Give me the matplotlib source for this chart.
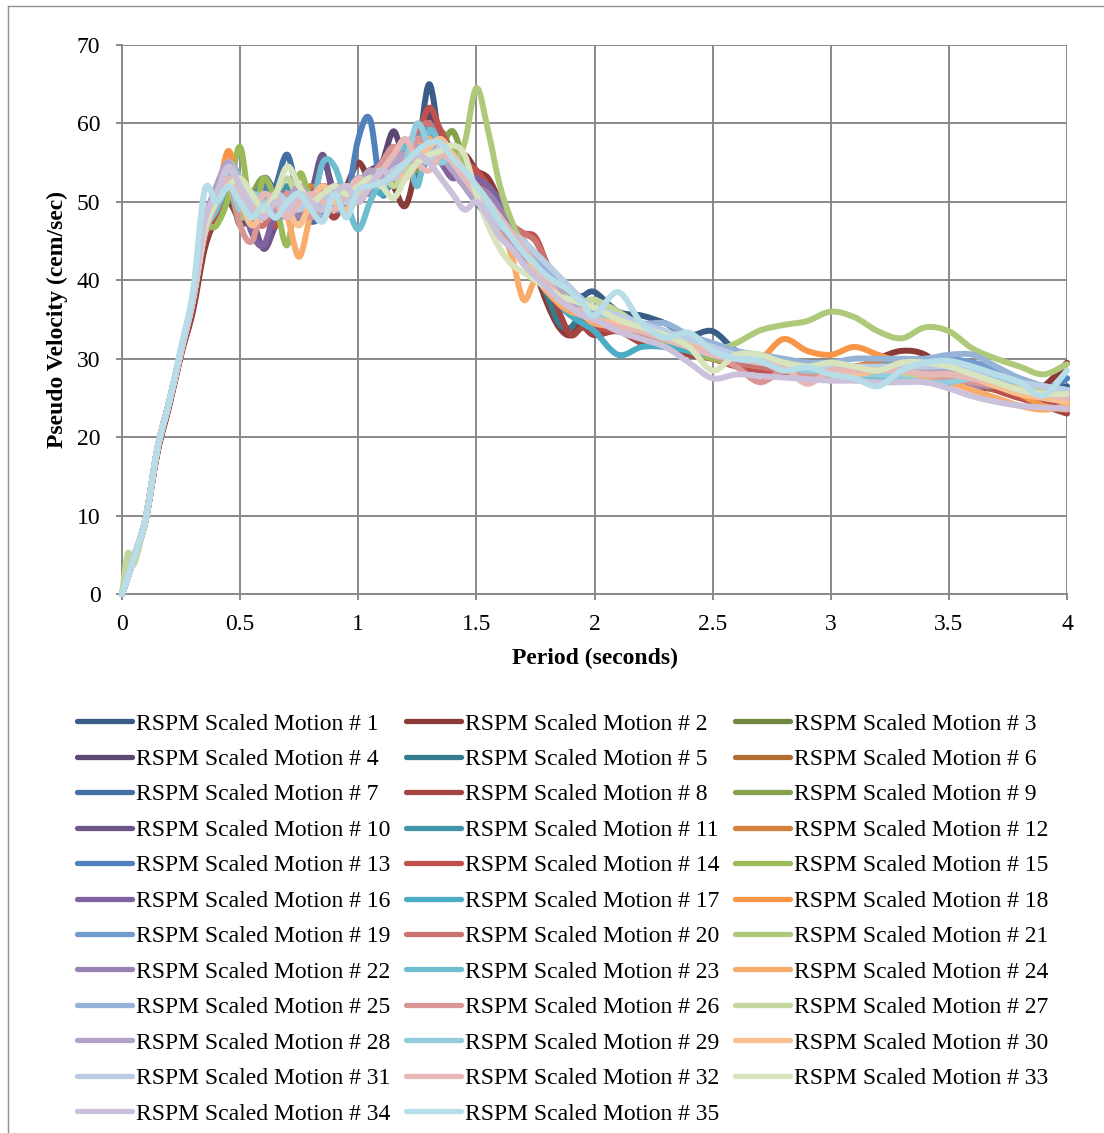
import matplotlib
matplotlib.use("Agg")
import matplotlib.pyplot as plt
from matplotlib.path import Path
from matplotlib.patches import PathPatch
from matplotlib.lines import Line2D
import numpy as np

plt.rcParams["font.family"] = ["Liberation Serif", "DejaVu Serif"]

# Periods (s) at which every spectrum is sampled
period = [0, 0.025, 0.05, 0.1, 0.15, 0.2, 0.25, 0.3, 0.35,
          0.4, 0.45, 0.5, 0.55, 0.6, 0.65, 0.7, 0.75, 0.8, 0.85, 0.9, 0.95, 1.0,
          1.05, 1.1, 1.15, 1.2, 1.25, 1.3, 1.35, 1.4, 1.45, 1.5,
          1.55, 1.6, 1.65, 1.7, 1.75, 1.8, 1.85, 1.9, 1.95, 2.0,
          2.1, 2.2, 2.3, 2.4, 2.5, 2.6, 2.7, 2.8, 2.9, 3.0,
          3.1, 3.2, 3.3, 3.4, 3.5, 3.6, 3.7, 3.8, 3.9, 4.0]

# Pseudo velocity (cem/sec) of each scaled motion
psv_01 = [0, 2.2, 4.6, 9.6, 18.5, 24.5, 31.0, 37.5, 46.5,
          49, 53, 50, 48, 53, 51, 49, 48, 51, 49, 50, 51, 53, 51, 53, 52, 54, 56, 65, 57, 55, 54, 51,
          49, 47, 45, 43, 42, 41, 39.5, 38, 38, 38.5,
          36, 35.5, 34.5, 33, 33.5, 31, 30, 29.5, 29, 28.5, 28.5, 28.5, 29, 29, 28.5, 28, 27.5, 27, 26, 26.5]
psv_02 = [0, 2.2, 4.5, 9.4, 18.0, 24.0, 30.5, 36.0, 44.0,
          48, 50, 48, 51, 49, 50, 48, 50, 51, 49, 50, 52, 55, 53, 55, 52, 49.5, 55, 61, 58, 55, 56, 54,
          53, 50, 47, 44, 41, 37, 34, 33, 35, 34,
          33.5, 33, 32, 31, 30.5, 29.5, 29, 28.5, 28, 27.5, 28.5, 30, 31, 30.5, 28, 27, 26.5, 26, 26.5, 29.5]
psv_03 = [0, 2.2, 4.6, 9.6, 18.5, 24.5, 31.0, 37.5, 46.0,
          49, 52, 47, 50, 52, 49, 51, 50, 48, 51, 52, 50, 52, 54, 52, 55, 53, 56, 57, 59, 56, 54, 52,
          50, 48, 46, 44, 41, 39, 37, 35.5, 35, 35,
          34, 33, 32, 31, 30.5, 30, 29.5, 29, 28.5, 28, 28, 28, 28, 28, 28.5, 28, 27, 26, 25, 24.5]
psv_04 = [0, 2.2, 4.6, 9.6, 18.5, 24.5, 31.0, 38.0, 47.0,
          50, 54, 49, 47, 51, 48, 50, 52, 49, 55, 51, 49, 52, 54, 55, 59, 55, 57, 61.5, 58, 56, 55, 53,
          51, 48, 46, 44, 42, 40, 38, 36, 35, 35.5,
          34.5, 33.5, 32.5, 31.5, 30.5, 30, 29.5, 29, 28.5, 28, 28, 28.5, 29, 29, 28.5, 28, 27.5, 27, 26, 25.5]
psv_05 = [0, 2.2, 4.6, 9.6, 18.5, 24.5, 31.0, 37.5, 46.0,
          51, 50, 52, 49, 48, 51, 50, 48, 50, 52, 49, 51, 50, 53, 55, 53, 55, 58, 56, 57, 55, 52, 50,
          48, 47, 45, 43, 41, 38, 34.5, 34, 36, 35,
          34, 33.5, 32, 31.5, 30.5, 30, 29.5, 29, 28.5, 28, 28, 28, 27.5, 27.5, 28, 28, 27.5, 26.5, 25.5, 25]
psv_06 = [0, 2.2, 4.6, 9.6, 18.5, 24.5, 31.0, 37.0, 45.5,
          50, 55, 51, 49, 50, 52, 49, 51, 50, 48, 51, 52, 50, 52, 54, 56, 54, 55, 58, 56, 55, 53, 52,
          50, 48, 46, 44, 41, 39, 37, 36, 36, 35,
          34.5, 33.5, 32.5, 31.5, 31, 30, 29.5, 29, 28.5, 28, 28.5, 29, 28.5, 28, 27.5, 27, 26.5, 25.5, 25, 24.5]
psv_07 = [0, 2.2, 4.6, 9.6, 18.5, 24.5, 31.0, 37.5, 46.0,
          49, 51, 49, 48, 50, 52, 56, 50, 47.5, 48.5, 51, 50, 52, 54, 53, 55, 54, 56, 57, 55, 56, 54, 51,
          49, 47, 46, 44, 42, 40, 38.5, 37, 36.5, 36,
          35, 34, 33, 32, 31, 30.5, 30, 29.5, 29, 28.5, 29, 29, 28.5, 28, 28, 28.5, 27.5, 26.5, 26, 27.5]
psv_08 = [0, 2.2, 4.5, 9.4, 18.0, 24.0, 30.5, 36.5, 45.0,
          48, 51, 50, 47, 49, 51, 48, 50, 52, 50, 48, 51, 53, 51, 54, 56, 53, 57, 59, 56, 54, 55, 53,
          51, 49, 47, 45, 43, 40, 36, 33, 34, 33,
          33.5, 32, 31.5, 30.5, 30, 29.5, 29, 28.5, 28, 27.5, 27.5, 28, 28.5, 28, 27, 26.5, 26, 25, 24, 23]
psv_09 = [0, 2.2, 4.6, 9.6, 18.5, 24.5, 31.0, 37.5, 46.0,
          50, 52, 49, 51, 53, 50, 48, 50, 51, 49, 50, 52, 51, 53, 52, 54, 55, 54, 56, 57, 59, 55, 52,
          50, 48, 46, 43, 41, 39, 37, 36, 35.5, 35,
          34, 33, 32, 31, 30.5, 30, 29.5, 29, 28.5, 28, 27.5, 27.5, 28, 28, 27.5, 27, 26, 25, 24.5, 24]
psv_10 = [0, 2.2, 4.6, 9.6, 18.5, 24.5, 31.0, 37.5, 46.5,
          51, 54, 50, 48, 44, 47, 50, 49, 51, 56, 50, 49, 51, 53, 52, 54, 56, 55, 57, 56, 54, 52, 51,
          50, 48, 46, 44, 42, 40, 38, 36.5, 36, 35.5,
          34.5, 33.5, 32.5, 31.5, 30.5, 30, 29.5, 29, 28.5, 28, 28, 28, 28.5, 28.5, 28.5, 28, 27, 26, 25.5, 25]
psv_11 = [0, 2.2, 4.6, 9.6, 18.5, 24.5, 31.0, 37.5, 46.0,
          50, 52, 49, 50, 48, 50, 52, 49, 51, 50, 49, 51, 53, 52, 54, 53, 55, 57, 59, 56, 54, 53, 51,
          49, 47, 46, 44, 42, 40, 38, 36, 35.5, 35,
          34, 33, 32, 31, 30.5, 30, 29.5, 29, 28.5, 28, 28, 27.5, 27.5, 27.5, 28, 28, 27.5, 26.5, 26, 25.5]
psv_12 = [0, 2.2, 4.6, 9.6, 18.5, 24.5, 31.0, 37.5, 46.0,
          49, 53, 50, 51, 49, 48, 51, 50, 52, 50, 49, 51, 52, 51, 53, 55, 54, 56, 58, 57, 55, 54, 52,
          51, 49, 47, 44, 42, 40, 38, 36, 35.5, 35,
          34.5, 33.5, 32.5, 31.5, 31, 30.5, 30, 29.5, 29, 28.5, 29, 29.5, 29, 28.5, 28, 27.5, 26.5, 25.5, 25, 24.5]
psv_13 = [0, 2.2, 4.6, 9.6, 18.5, 24.5, 31.0, 37.5, 46.0,
          50, 53, 48, 50, 52, 49, 50, 48, 50, 51, 49, 50, 58, 60.5, 51, 54, 55, 53, 56, 57, 55, 53, 51,
          49, 48, 46, 45, 43, 42, 40, 38, 37, 36.5,
          35.5, 34.5, 33, 32, 31, 30.5, 30, 29.5, 29, 28.5, 28.5, 28.5, 28, 28.5, 29.5, 29.5, 28.5, 27, 26, 27.5]
psv_14 = [0, 2.2, 4.6, 9.6, 18.5, 24.5, 31.0, 37.0, 45.5,
          48, 52, 49, 51, 48, 47, 50, 49, 51, 52, 50, 51, 50, 52, 54, 57, 54, 58, 62, 59, 56, 55, 54,
          52, 50, 47, 46, 45.5, 42, 39, 36, 34.5, 34,
          33.5, 33, 32.5, 31, 30, 29, 28.5, 28, 27.5, 27.5, 28, 28.5, 29, 29.5, 29, 27.5, 26, 25, 24.5, 23.5]
psv_15 = [0, 2.2, 4.6, 9.6, 18.5, 24.5, 31.0, 37.5, 46.0,
          47, 50.5, 57, 48, 53, 50, 44.5, 53.5, 50, 49, 51, 50, 52, 51, 53, 55, 54, 56, 58, 56, 57, 55, 52,
          50, 48, 46, 44, 42, 40, 38, 36, 35.5, 35,
          34, 33, 32, 31, 30, 29.5, 29, 28.5, 28, 27.5, 27.5, 27.5, 27.5, 28, 28, 27.5, 26.5, 25.5, 25, 24.5]
psv_16 = [0, 2.2, 4.6, 9.6, 18.5, 24.5, 31.0, 37.5, 46.0,
          50, 53, 51, 46, 44.5, 49, 51, 49, 50, 52, 50, 49, 51, 53, 55, 54, 56, 55, 57, 55, 53, 54, 53,
          52, 50, 47, 45, 43, 41, 39, 37, 36, 35.5,
          34.5, 33.5, 32.5, 31.5, 31, 30.5, 30, 29.5, 29, 28.5, 28, 28, 28, 28, 27.5, 27, 26.5, 26, 25.5, 25]
psv_17 = [0, 2.2, 4.6, 9.6, 18.5, 24.5, 31.0, 37.5, 46.0,
          49, 52, 50, 49, 51, 50, 48, 50, 51, 49, 51, 50, 52, 53, 51, 54, 56, 58, 60, 57, 55, 54, 52,
          51, 49, 46, 44, 42, 39, 37, 35.5, 34.5, 33.5,
          30.5, 31.5, 31.5, 31, 30.5, 30, 29.5, 29, 28.5, 28, 28.5, 28, 27.5, 27.5, 28, 28, 27, 26, 25.5, 25]
psv_18 = [0, 2.2, 4.6, 9.6, 18.5, 24.5, 31.0, 37.5, 46.5,
          50, 56.5, 51, 49, 50, 48, 50, 51, 49, 50, 52, 51, 50, 52, 54, 53, 55, 57, 58.5, 57, 55, 53, 52,
          51, 49, 47, 45, 42, 40, 38, 36.5, 36, 35,
          34.5, 34, 33, 32, 31, 30.5, 30, 32.5, 31, 30.5, 31.5, 30.5, 29.5, 29, 28.5, 28, 27, 25.5, 24, 23.5]
psv_19 = [0, 2.2, 4.6, 9.6, 18.5, 24.5, 31.0, 37.5, 47.0,
          51, 54, 52, 49, 50, 48, 49, 51, 50, 49, 51, 52, 50, 53, 54, 53, 55, 56, 57, 58, 56, 53, 51,
          49, 47, 45.5, 44.5, 43.5, 42, 40, 38, 37, 36,
          35.5, 34.5, 33.5, 32.5, 31.5, 30.5, 30, 29.5, 29, 29, 28.5, 29, 29.5, 30, 30, 29.5, 28.5, 27.5, 26.5, 26]
psv_20 = [0, 2.2, 4.6, 9.6, 18.5, 24.5, 31.0, 37.5, 46.0,
          49, 52, 50, 48, 47, 50, 51, 49, 50, 52, 51, 50, 52, 54, 53, 55, 57, 59, 60, 57, 55, 53, 51,
          50, 48, 47, 46, 45, 42, 39, 37, 36, 35,
          34.5, 33.5, 32.5, 31.5, 30.5, 29.5, 29, 28.5, 28.5, 28, 28, 28.5, 28.5, 28, 28, 27.5, 27, 26, 25.5, 25]
psv_21 = [0, 2.2, 4.6, 9.6, 18.5, 24.5, 31.0, 37.5, 46.0,
          50, 52, 48, 50, 51, 49, 50, 52, 50, 49, 51, 50, 52, 53, 52, 54, 55, 56, 55, 56, 55, 57.5, 64.5,
          59, 52, 47.5, 44, 41, 39.5, 38.5, 37.5, 37, 37.5,
          35.5, 34, 32.5, 31.5, 31, 32, 33.6, 34.3, 34.8, 36, 35.3, 33.5, 32.6, 34, 33.5, 31.3, 30, 29, 28, 29.3]
psv_22 = [0, 2.2, 4.6, 9.6, 18.5, 24.5, 31.0, 37.5, 47.0,
          52, 54, 50, 47, 49, 51, 50, 48, 50, 51, 49, 50, 52, 51, 53, 55, 54, 56, 59, 57, 54, 53, 52,
          51, 49, 46, 44, 42, 40, 38, 37, 36, 35.5,
          34.5, 33.5, 32.5, 31.5, 31, 30, 29.5, 29, 28.5, 28, 28, 28, 28, 28, 27, 26.5, 26.5, 26, 25, 24.5]
psv_23 = [0, 2.2, 4.6, 9.6, 18.5, 24.5, 31.0, 37.5, 46.0,
          49, 52, 50, 48, 50, 49, 51, 50, 49, 55, 54.5, 50, 46.5, 50, 53, 55, 57, 52, 59, 57, 55, 53, 51,
          49, 47, 45.5, 44, 42, 40, 38, 36.5, 36, 35.5,
          34.5, 33.5, 32.5, 31.5, 30.5, 30, 29.5, 29, 28.5, 28, 27.5, 27.5, 27.5, 27.5, 27.5, 27.5, 27, 26.5, 26, 26]
psv_24 = [0, 2.2, 4.6, 9.6, 18.5, 24.5, 31.0, 37.5, 46.5,
          50, 55, 52, 50, 48, 50, 48, 43, 48.5, 51, 49, 51, 50, 52, 54, 53, 55, 57, 58, 56, 54, 53, 52,
          50, 47, 43, 37.5, 40, 38.5, 37, 36, 35.5, 34.5,
          34, 33.5, 32.5, 31.5, 31, 30.5, 30, 29.5, 29, 28.5, 28, 28.5, 28, 27.5, 27, 26, 25, 24, 23.5, 24]
psv_25 = [0, 2.2, 4.6, 9.6, 18.5, 24.5, 31.0, 37.5, 47.0,
          51, 55, 53, 49, 48, 50, 49, 51, 50, 48, 50, 51, 53, 52, 54, 56, 55, 57, 56, 57, 55, 52, 50,
          49, 47, 46, 44.5, 43, 41.5, 40, 38.5, 37, 36,
          35.5, 34.5, 34.5, 33, 32, 31, 30.5, 30, 29.5, 29.5, 30, 30, 30, 30, 30.5, 30.5, 29, 27.5, 26.5, 26]
psv_26 = [0, 2.2, 4.6, 9.6, 18.5, 24.5, 31.0, 37.5, 46.0,
          50, 53, 47, 45, 50, 49, 51, 50, 48, 50, 52, 51, 50, 53, 55, 57, 55, 58, 57, 56, 54, 52, 51,
          50, 48, 46, 44, 42, 40, 38, 36.5, 36, 35,
          34, 33, 32.5, 31.5, 30.5, 29, 27, 28.5, 28, 27.5, 28, 28.5, 28.5, 28, 27.5, 27, 26.5, 26, 25.5, 25]
psv_27 = [0, 5.2, 3.8, 9.6, 18.5, 24.5, 31.0, 37.5, 47.0,
          51, 55, 52, 50, 49, 51, 53, 50, 49, 51, 50, 52, 51, 53, 54, 52, 54, 55, 56, 57, 56, 54, 52,
          50, 48, 46, 44, 42, 40, 38.5, 37.5, 37, 37.5,
          36, 34, 32.5, 31.5, 30.5, 30, 30, 29.5, 29, 28.5, 28.5, 28, 28, 28, 28, 28, 27.5, 26.5, 26, 26]
psv_28 = [0, 2.2, 4.6, 9.6, 18.5, 24.5, 31.0, 37.5, 47.5,
          52, 55, 51, 49, 51, 48, 50, 52, 50, 49, 51, 50, 52, 54, 53, 55, 56, 55, 57, 56, 54, 52, 50,
          49, 47, 45, 43, 41.5, 40, 38.5, 37, 36, 35,
          34.5, 34, 33, 32.5, 31.5, 30.5, 30, 29.5, 29, 28.5, 28.5, 28.5, 28.5, 28.5, 28.5, 28, 27.5, 27, 26.5, 26]
psv_29 = [0, 2.2, 4.6, 9.6, 18.5, 24.5, 31.0, 37.5, 46.0,
          50, 53, 49, 51, 50, 48, 50, 51, 49, 50, 52, 50, 51, 53, 52, 54, 55, 60, 57, 55, 56, 54, 52,
          50, 48, 46, 44, 42, 40, 38, 36.5, 36, 35.5,
          34.5, 33.5, 32.5, 31.5, 30.5, 30, 29.5, 29, 28.5, 28.5, 28, 28, 27.5, 27, 27, 27.5, 27.5, 27, 26.5, 26]
psv_30 = [0, 2.2, 4.6, 9.6, 18.5, 24.5, 31.0, 37.5, 46.0,
          50, 52, 50, 47, 49, 51, 49, 47, 50, 52, 50, 49, 51, 53, 52, 54, 53, 55, 57, 58, 56, 54, 52,
          50, 48, 46, 44, 41, 39, 37.5, 36.5, 35.5, 35,
          34.5, 34, 33, 32, 31, 30.5, 30, 29.5, 29, 28.5, 28, 28.5, 28.5, 28, 28, 27.5, 26.5, 25.5, 25, 24.5]
psv_31 = [0, 2.2, 4.6, 9.6, 18.5, 24.5, 31.0, 37.5, 47.0,
          51, 54, 52, 50, 49, 51, 50, 49, 51, 50, 51, 50, 52, 53, 52, 54, 55, 56, 55, 57, 55, 53, 51,
          49, 47, 46, 45, 43.5, 42, 40.5, 39, 37.5, 36.5,
          35.5, 34.5, 33.5, 32.5, 31.5, 30.5, 30, 29.5, 29, 29, 29, 29, 29, 29, 29, 28.5, 28, 27, 26.5, 26]
psv_32 = [0, 2.2, 4.6, 9.6, 18.5, 24.5, 31.0, 37.5, 46.0,
          50, 53, 51, 49, 51, 50, 48, 50, 51, 50, 49, 51, 53, 52, 54, 56, 58, 55, 54, 56, 55, 53, 51,
          50, 48, 46, 44, 42, 40, 38, 36.5, 36, 35,
          34, 33.5, 32.5, 31.5, 30.5, 30, 29.5, 29, 26.8, 28.5, 28.5, 28.5, 28.5, 28, 28, 27.5, 27, 26, 25.5, 25]
psv_33 = [0, 2.2, 4.6, 9.6, 18.5, 24.5, 31.0, 37.5, 46.5,
          50, 52, 53, 51, 49, 51, 54.5, 52, 50, 51, 52, 51, 52, 53, 52, 50.5, 53, 55, 56, 56.5, 57.2, 56, 51,
          47, 44, 42, 41, 40, 39, 38, 37.5, 37, 36.5,
          35, 34, 33, 31.5, 28.5, 30.5, 30.5, 29.5, 29, 29.5, 29, 28.5, 29.5, 29.5, 29, 28, 27, 26, 25.5, 25.5]
psv_34 = [0, 2.2, 4.6, 9.6, 18.5, 24.5, 31.0, 37.5, 47.5,
          51, 54.5, 52, 49, 48, 50, 49, 51, 50, 49, 51, 52, 50, 52, 54, 53, 55, 56, 55, 53, 51, 49, 50,
          48, 45.5, 44, 42, 40.5, 39, 37.5, 36.5, 35.5, 35,
          33.5, 32.5, 31.5, 29.5, 27.5, 28, 27.8, 27.6, 27.4, 27.2, 27.2, 27, 27, 27, 26.2, 25.2, 24.5, 24, 23.8, 23.6]
psv_35 = [0, 2.2, 4.6, 9.6, 18.5, 24.5, 31.5, 38.5, 51.5,
          50, 52, 50, 48, 49.5, 48, 50, 51, 49, 47.5, 51, 48, 51.5, 52, 52.5, 53.5, 55, 56.5, 57.5, 57.5, 55.5, 54, 52,
          50, 47.5, 45.5, 43.5, 42, 40.5, 39.5, 38.5, 37, 35.5,
          38.5, 34.5, 32.7, 33.3, 31, 30, 29.7, 28.5, 28.9, 28, 27.5, 26.5, 28.5, 29.5, 29.7, 29, 28, 27, 25.3, 28.5]

motions = [psv_01, psv_02, psv_03, psv_04, psv_05, psv_06, psv_07, psv_08, psv_09,
           psv_10, psv_11, psv_12, psv_13, psv_14, psv_15, psv_16, psv_17, psv_18,
           psv_19, psv_20, psv_21, psv_22, psv_23, psv_24, psv_25, psv_26, psv_27,
           psv_28, psv_29, psv_30, psv_31, psv_32, psv_33, psv_34, psv_35]
labels = [f"RSPM Scaled Motion # {i}" for i in range(1, len(motions) + 1)]

x_ticks = [0, 0.5, 1, 1.5, 2, 2.5, 3, 3.5, 4]
x_tick_labels = ["0", "0.5", "1", "1.5", "2", "2.5", "3", "3.5", "4"]
y_ticks = [0, 10, 20, 30, 40, 50, 60, 70]

# Office theme accents, then darker and lighter variants of them
accents = ["#4F81BD", "#C0504D", "#9BBB59", "#8064A2", "#4BACC6", "#F79646"]
levels = [("shade", 0.72), ("shade", 0.86), ("shade", 1.0),
          ("tint", 0.2), ("tint", 0.4), ("tint", 0.6)]


def variant(hexcolor, kind, amount):
    rgb = np.array([int(hexcolor[i:i + 2], 16) for i in (1, 3, 5)], dtype=float)
    if kind == "shade":
        rgb = rgb * amount
    else:
        rgb = rgb + (255 - rgb) * amount
    return tuple(np.clip(rgb, 0, 255) / 255)


colors = [variant(accents[i % 6], *levels[i // 6]) for i in range(len(motions))]


def smooth_path(xs, ys):
    """Cubic Bezier path through the points (Catmull-Rom style smoothing)."""
    pts = np.column_stack([xs, ys]).astype(float)
    n = len(pts)
    verts = [pts[0]]
    codes = [Path.MOVETO]
    for i in range(n - 1):
        p0 = pts[i - 1] if i > 0 else pts[i]
        p1 = pts[i]
        p2 = pts[i + 1]
        p3 = pts[i + 2] if i + 2 < n else pts[i + 1]
        verts += [p1 + (p2 - p0) / 6.0, p2 - (p3 - p1) / 6.0, p2]
        codes += [Path.CURVE4] * 3
    return Path(verts, codes)


W, H = 1104, 1133
fig = plt.figure(figsize=(W / 100, H / 100), dpi=100)
fig.patch.set_facecolor("white")

x0, x1, ytop, ybot = 122, 1067, 45, 594
ax = fig.add_axes([x0 / W, 1 - ybot / H, (x1 - x0) / W, (ybot - ytop) / H])

grid_color = "#898989"
ax.set_xlim(0, 4)
ax.set_ylim(0, 70)
ax.set_xticks(x_ticks)
ax.set_xticklabels(x_tick_labels)
ax.set_yticks(y_ticks)
ax.grid(True, color=grid_color, lw=1.4)
ax.set_axisbelow(True)
for side in ("top", "right"):
    ax.spines[side].set_visible(False)
for side in ("left", "bottom"):
    ax.spines[side].set_color(grid_color)
    ax.spines[side].set_linewidth(1.4)
ax.tick_params(axis="both", direction="out", length=4.5, width=1.4,
               color=grid_color, labelsize=17, labelcolor="black")
ax.tick_params(axis="y", pad=11)
ax.tick_params(axis="x", pad=10)

line_width = 4.3
handles = []
for vals, col, lab in zip(motions, colors, labels):
    patch = PathPatch(smooth_path(period, vals), facecolor="none", edgecolor=col,
                      lw=line_width, capstyle="round", joinstyle="round",
                      clip_on=False, zorder=3)
    ax.add_patch(patch)
    handles.append(Line2D([], [], color=col, lw=3.8, solid_capstyle="round", label=lab))

fig.text((x0 + x1) / 2 / W, 1 - 658 / H, "Period (seconds)", ha="center", va="center",
         fontsize=17, fontweight="bold")
fig.text(57 / W, 1 - 319 / H, "Pseudo Velocity (cem/sec)", ha="center", va="center",
         rotation=90, fontsize=17, fontweight="bold")

# Legend reads across rows: reorder so column-major filling gives row order
ncol = 3
order = [i for c in range(ncol) for i in range(c, len(handles), ncol)]
fig.legend([handles[i] for i in order], [labels[i] for i in order],
           loc="upper left", bbox_to_anchor=(77 / W, 1 - 713 / H), ncol=ncol,
           frameon=False, fontsize=17, borderpad=0, borderaxespad=0,
           handlelength=2.35, handletextpad=0.15, columnspacing=0.65,
           labelspacing=0.59)

# Outer chart frame
frame_color = "#8f8f8f"
fig.add_artist(Line2D([8 / W, 8 / W], [0, 1 - 6 / H], color=frame_color, lw=1.0,
                      transform=fig.transFigure))
fig.add_artist(Line2D([8 / W, 1], [1 - 6 / H, 1 - 6 / H], color=frame_color, lw=1.0,
                      transform=fig.transFigure))

fig.savefig("out.png", dpi=100, facecolor="white")
